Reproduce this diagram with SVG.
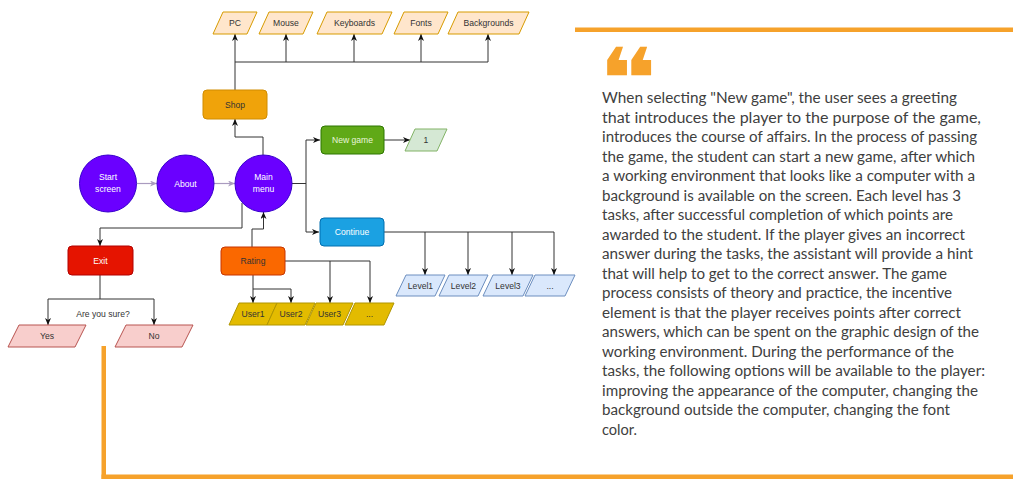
<svg xmlns="http://www.w3.org/2000/svg" width="1013" height="479" viewBox="0 0 1013 479">
<style>
.t{font-family:"Liberation Sans",Arial,sans-serif;font-size:8.6px;text-anchor:middle}
.d{fill:#333}
.w{fill:#ffffff}
.c{fill:none;stroke:#333;stroke-width:1}
.g{fill:none;stroke:#a99bbf;stroke-width:1.2}
.p{font-family:Lato,"Open Sans",sans-serif;font-size:15.5px;fill:#404040}
.org{fill:#f6a22b}
</style>
<defs>
<marker id="a" markerUnits="userSpaceOnUse" markerWidth="8" markerHeight="7" refX="7" refY="3" orient="auto"><path d="M0,0 L7,3 L0,6 L2,3 z" fill="#111"/></marker>
<marker id="ag" markerUnits="userSpaceOnUse" markerWidth="8" markerHeight="7" refX="7" refY="3" orient="auto"><path d="M0,0 L7,3 L0,6 L2,3 z" fill="#a99bbf"/></marker>
</defs>
<rect width="1013" height="479" fill="#ffffff"/>

<g id="connectors">
<path class="g" d="M137,183.5 H157" marker-end="url(#ag)"/>
<path class="g" d="M214,183.5 H235" marker-end="url(#ag)"/>
<path class="c" d="M263,155 V137 H235 V119" marker-end="url(#a)"/>
<path class="c" d="M235,90 V34" marker-end="url(#a)"/>
<path class="c" d="M235,62 H488"/>
<path class="c" d="M286,62 V34" marker-end="url(#a)"/>
<path class="c" d="M354,62 V34" marker-end="url(#a)"/>
<path class="c" d="M421,62 V34" marker-end="url(#a)"/>
<path class="c" d="M488,62 V34" marker-end="url(#a)"/>
<path class="c" d="M292,183.5 H306 M306,140 V232"/>
<path class="c" d="M306,140 H320" marker-end="url(#a)"/>
<path class="c" d="M306,232 H319" marker-end="url(#a)"/>
<path class="c" d="M384,140 H410" marker-end="url(#a)"/>
<path class="c" d="M384,232 H554"/>
<path class="c" d="M425,232 V275" marker-end="url(#a)"/>
<path class="c" d="M468,232 V275" marker-end="url(#a)"/>
<path class="c" d="M512,232 V275" marker-end="url(#a)"/>
<path class="c" d="M554,232 V275" marker-end="url(#a)"/>
<path class="c" d="M252,247 V229 H263.5 V212" marker-end="url(#a)"/>
<path class="c" d="M242,203 V228 H100 V246" marker-end="url(#a)"/>
<path class="c" d="M100,275 V299 M48,299 H154"/>
<path class="c" d="M48,299 V325" marker-end="url(#a)"/>
<path class="c" d="M154,299 V325" marker-end="url(#a)"/>
<path class="c" d="M285,261 H370"/>
<path class="c" d="M330,261 V303" marker-end="url(#a)"/>
<path class="c" d="M370,261 V303" marker-end="url(#a)"/>
<path class="c" d="M253,275 V303" marker-end="url(#a)"/>
<path class="c" d="M253,289 H291 V303" marker-end="url(#a)"/>
<text class="t d" x="103" y="317">Are you sure?</text>
</g>

<g id="start"><circle cx="108" cy="183.5" r="28.5" fill="#6a00ff" stroke="#3700cc"/><text class="t w" x="108" y="180">Start</text><text class="t w" x="108" y="192">screen</text></g>
<g id="about"><circle cx="185.5" cy="183.5" r="28.5" fill="#6a00ff" stroke="#3700cc"/><text class="t w" x="185.5" y="186.5">About</text></g>
<g id="mainmenu"><circle cx="263.5" cy="183.5" r="28.5" fill="#6a00ff" stroke="#3700cc"/><text class="t w" x="263.5" y="180">Main</text><text class="t w" x="263.5" y="192">menu</text></g>

<g id="shop"><rect x="203" y="90" width="64" height="29" rx="4" fill="#f0a30a" stroke="#d08c00"/><text class="t d" x="235" y="108">Shop</text></g>
<g id="pc"><polygon points="223,12 257,12 247,34 213,34" fill="#ffe6cc" stroke="#d79b00"/><text class="t d" x="235" y="26">PC</text></g>
<g id="mouse"><polygon points="269,12 313,12 303,34 259,34" fill="#ffe6cc" stroke="#d79b00"/><text class="t d" x="286" y="26">Mouse</text></g>
<g id="keyboards"><polygon points="327,12 392,12 382,34 317,34" fill="#ffe6cc" stroke="#d79b00"/><text class="t d" x="354.5" y="26">Keyboards</text></g>
<g id="fonts"><polygon points="404,12 448,12 438,34 394,34" fill="#ffe6cc" stroke="#d79b00"/><text class="t d" x="421" y="26">Fonts</text></g>
<g id="backgrounds"><polygon points="458,12 529,12 519,34 448,34" fill="#ffe6cc" stroke="#d79b00"/><text class="t d" x="488.5" y="26">Backgrounds</text></g>

<g id="newgame"><rect x="321" y="126" width="63" height="28" rx="4" fill="#60a917" stroke="#2d7600"/><text class="t" fill="#e8f5dc" x="352.5" y="143">New game</text></g>
<g id="one"><polygon points="415,129 447,129 437,151 405,151" fill="#d5e8d4" stroke="#82b366"/><text class="t d" x="426" y="143">1</text></g>

<g id="continue"><rect x="320" y="218" width="64" height="28" rx="4" fill="#1ba1e2" stroke="#006eaf"/><text class="t w" x="352" y="235">Continue</text></g>
<g id="level1"><polygon points="406,275 445,275 435,296 396,296" fill="#dae8fc" stroke="#6c8ebf"/><text class="t d" x="420.5" y="289">Level1</text></g>
<g id="level2"><polygon points="449,275 488,275 478,296 439,296" fill="#dae8fc" stroke="#6c8ebf"/><text class="t d" x="463.5" y="289">Level2</text></g>
<g id="level3"><polygon points="493,275 533,275 523,296 483,296" fill="#dae8fc" stroke="#6c8ebf"/><text class="t d" x="508" y="289">Level3</text></g>
<g id="levelmore"><polygon points="535,275 575,275 565,296 525,296" fill="#dae8fc" stroke="#6c8ebf"/><text class="t d" x="550" y="289">...</text></g>

<g id="rating"><rect x="221" y="247" width="64" height="28" rx="4" fill="#fa6800" stroke="#c73500"/><text class="t d" x="253" y="264">Rating</text></g>
<g id="user1"><polygon points="239,303 277,303 267,325 229,325" fill="#e3bb00" stroke="#b09500"/><text class="t d" x="253" y="317">User1</text></g>
<g id="user2"><polygon points="277,303 315,303 305,325 267,325" fill="#e3bb00" stroke="#b09500"/><text class="t d" x="291" y="317">User2</text></g>
<g id="user3"><polygon points="316,303 353,303 343,325 306,325" fill="#e3bb00" stroke="#b09500"/><text class="t d" x="329.5" y="317">User3</text></g>
<g id="usermore"><polygon points="355,303 394,303 384,325 345,325" fill="#e3bb00" stroke="#b09500"/><text class="t d" x="369.5" y="317">...</text></g>

<g id="exit"><rect x="68" y="246" width="65" height="29" rx="4" fill="#e51400" stroke="#b20000"/><text class="t w" x="100.5" y="264">Exit</text></g>
<g id="yes"><polygon points="19,325 86,325 75,347 8,347" fill="#f8cecc" stroke="#b85450"/><text class="t d" x="47" y="339">Yes</text></g>
<g id="no"><polygon points="126,325 193,325 182,347 115,347" fill="#f8cecc" stroke="#b85450"/><text class="t d" x="154" y="339">No</text></g>

<g id="decor">
<rect class="org" x="575" y="27.5" width="438" height="4.5"/>
<rect class="org" x="101.5" y="346" width="4.5" height="133"/>
<rect class="org" x="101.5" y="474.5" width="911.5" height="4.5"/>
<text transform="translate(598,109) scale(1.3,1)" x="0" y="0" font-family="DejaVu Sans,sans-serif" font-size="85" fill="#f6a22b">❝</text>
</g>

<g id="paragraph">
<text class="p" x="602" y="103" textLength="355" lengthAdjust="spacingAndGlyphs">When selecting "New game", the user sees a greeting</text>
<text class="p" x="602" y="122.5" textLength="379" lengthAdjust="spacingAndGlyphs">that introduces the player to the purpose of the game,</text>
<text class="p" x="602" y="142" textLength="375" lengthAdjust="spacingAndGlyphs">introduces the course of affairs. In the process of passing</text>
<text class="p" x="602" y="161.5" textLength="373" lengthAdjust="spacingAndGlyphs">the game, the student can start a new game, after which</text>
<text class="p" x="602" y="181" textLength="373" lengthAdjust="spacingAndGlyphs">a working environment that looks like a computer with a</text>
<text class="p" x="602" y="200.5" textLength="359" lengthAdjust="spacingAndGlyphs">background is available on the screen. Each level has 3</text>
<text class="p" x="602" y="220" textLength="351" lengthAdjust="spacingAndGlyphs">tasks, after successful completion of which points are</text>
<text class="p" x="602" y="239.5" textLength="363" lengthAdjust="spacingAndGlyphs">awarded to the student. If the player gives an incorrect</text>
<text class="p" x="602" y="259" textLength="371" lengthAdjust="spacingAndGlyphs">answer during the tasks, the assistant will provide a hint</text>
<text class="p" x="602" y="278.5" textLength="345" lengthAdjust="spacingAndGlyphs">that will help to get to the correct answer. The game</text>
<text class="p" x="602" y="298" textLength="350" lengthAdjust="spacingAndGlyphs">process consists of theory and practice, the incentive</text>
<text class="p" x="602" y="317.5" textLength="359" lengthAdjust="spacingAndGlyphs">element is that the player receives points after correct</text>
<text class="p" x="602" y="337" textLength="377" lengthAdjust="spacingAndGlyphs">answers, which can be spent on the graphic design of the</text>
<text class="p" x="602" y="356.5" textLength="352" lengthAdjust="spacingAndGlyphs">working environment. During the performance of the</text>
<text class="p" x="602" y="376" textLength="383" lengthAdjust="spacingAndGlyphs">tasks, the following options will be available to the player:</text>
<text class="p" x="602" y="395.5" textLength="376" lengthAdjust="spacingAndGlyphs">improving the appearance of the computer, changing the</text>
<text class="p" x="602" y="415" textLength="348" lengthAdjust="spacingAndGlyphs">background outside the computer, changing the font</text>
<text class="p" x="602" y="434.5" textLength="35" lengthAdjust="spacingAndGlyphs">color.</text>
</g>
</svg>
